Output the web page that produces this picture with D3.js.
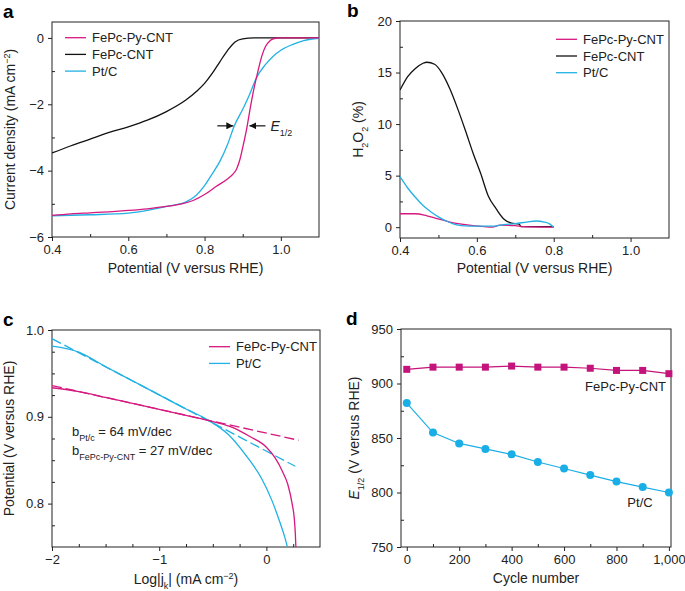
<!DOCTYPE html>
<html>
<head>
<meta charset="utf-8">
<script src="https://cdn.jsdelivr.net/npm/d3@7"></script>
<style>
  body { margin: 0; background: #fff; }
  svg { font-family: "Liberation Sans", Arial, Helvetica, sans-serif; }
  .tick text { font-size: 13px; fill: #222; }
  .tick line { stroke: #222; }
</style>
</head>
<body>
<svg id="chart" width="685" height="591"></svg>
<script>
// --- Data ---
// a: LSV curves, [potential V, current density mA cm-2]
const lsvPyCNT = [[0.40,-5.35],[0.45,-5.30],[0.50,-5.27],[0.55,-5.24],[0.60,-5.20],[0.65,-5.15],[0.70,-5.08],[0.74,-5.00],[0.77,-4.90],[0.80,-4.72],[0.83,-4.48],[0.86,-4.25],[0.875,-4.10],[0.884,-3.95],[0.893,-3.65],[0.902,-3.20],[0.911,-2.70],[0.920,-2.10],[0.930,-1.50],[0.940,-1.00],[0.950,-0.55],[0.960,-0.25],[0.972,-0.08],[0.985,-0.01],[1.00,0],[1.10,0]];
const lsvCNT = [[0.40,-3.47],[0.45,-3.25],[0.50,-3.05],[0.55,-2.85],[0.60,-2.68],[0.65,-2.48],[0.70,-2.22],[0.75,-1.88],[0.78,-1.60],[0.80,-1.37],[0.82,-1.07],[0.84,-0.72],[0.86,-0.38],[0.88,-0.12],[0.90,-0.03],[0.93,0],[1.10,0]];
const lsvPtC = [[0.40,-5.36],[0.50,-5.33],[0.60,-5.28],[0.65,-5.20],[0.70,-5.08],[0.75,-4.95],[0.77,-4.82],[0.80,-4.45],[0.82,-4.10],[0.84,-3.72],[0.86,-3.22],[0.878,-2.65],[0.90,-2.15],[0.92,-1.65],[0.935,-1.22],[0.96,-0.80],[0.98,-0.55],[1.00,-0.37],[1.03,-0.20],[1.06,-0.08],[1.10,-0.01]];
const e12Marks = [0.878, 0.915];   // E1/2 arrow heads (Pt/C, FePc-Py-CNT)
const e12Level = -2.65;

// b: H2O2 yield, [potential V, %]
const h2o2PyCNT = [[0.40,1.3],[0.44,1.3],[0.47,1.1],[0.50,0.8],[0.53,0.5],[0.56,0.3],[0.59,0.15],[0.62,0.05],[0.64,0.0],[0.66,0.2],[0.70,0.15],[0.72,0.05],[0.80,0.0]];
const h2o2CNT = [[0.40,13.3],[0.42,14.6],[0.44,15.4],[0.46,15.9],[0.47,16.0],[0.49,15.8],[0.51,14.9],[0.53,13.4],[0.55,11.5],[0.57,9.4],[0.59,7.2],[0.61,5.2],[0.63,3.0],[0.65,1.8],[0.67,0.8],[0.69,0.4],[0.71,0.3],[0.715,0.05],[0.80,0.05]];
const h2o2PtC = [[0.40,4.9],[0.42,3.8],[0.44,2.9],[0.46,2.1],[0.48,1.5],[0.50,1.0],[0.52,0.6],[0.54,0.3],[0.56,0.15],[0.60,0.1],[0.64,0.1],[0.67,0.25],[0.70,0.35],[0.73,0.5],[0.755,0.6],[0.775,0.5],[0.79,0.3],[0.80,0.0]];

// c: Tafel plots, [log|jk|, potential V]
const tafelPyCNT = [[-2,0.9335],[-1.75,0.929],[-1.5,0.9223],[-1.25,0.9155],[-1.0,0.9086],[-0.75,0.9017],[-0.5,0.8945],[-0.3,0.887],[-0.15,0.877],[0,0.865],[0.08,0.853],[0.15,0.837],[0.2,0.822],[0.24,0.800],[0.26,0.783],[0.27,0.765],[0.275,0.75]];
const tafelPtC = [[-2,0.9815],[-1.75,0.9745],[-1.5,0.9577],[-1.25,0.9415],[-1.0,0.9253],[-0.75,0.909],[-0.55,0.8966],[-0.35,0.879],[-0.2,0.857],[-0.05,0.830],[0.05,0.804],[0.13,0.777],[0.17,0.762],[0.196,0.75]];
const fitPyCNT = [[-2,0.936],[0.3,0.873]];
const fitPtC = [[-2,0.99],[0.27,0.843]];

// d: stability, E1/2 (mV) vs cycle number
const cycles = [0,100,200,300,400,500,600,700,800,900,1000];
const stabPyCNT = [913,915,915,915,916,915,915,914,912,912,909];
const stabPtC = [882,855,845,840,835,828,822,816,810,805,800];

const names = ["FePc-Py-CNT", "FePc-CNT", "Pt/C"];
const colors = { pink: "#d6187f", black: "#111111", cyan: "#22b1e4", pinkMark: "#c4137a", cyanMark: "#1aaee6" };

// --- Helpers ---
const svg = d3.select("#chart");

function panel(opt) {
    const g = svg.append("g").attr("transform", `translate(${opt.left},${opt.top})`);
    const w = opt.width, h = opt.height;
    const x = d3.scaleLinear().domain(opt.xDomain).range([0, w]);
    const y = d3.scaleLinear().domain(opt.yDomain).range([h, 0]);

    // minor ticks point inward, major ticks outward
    g.append("g").attr("transform", `translate(0,${h})`)
        .call(d3.axisBottom(x).tickValues(opt.xMinor).tickSize(-3).tickFormat(""))
        .call(a => a.select(".domain").remove());
    g.append("g")
        .call(d3.axisLeft(y).tickValues(opt.yMinor).tickSize(-3).tickFormat(""))
        .call(a => a.select(".domain").remove());
    g.append("g").attr("transform", `translate(0,${h})`)
        .call(d3.axisBottom(x).tickValues(opt.xMajor).tickSize(4).tickPadding(4).tickFormat(opt.xFormat))
        .call(a => a.select(".domain").remove());
    g.append("g")
        .call(d3.axisLeft(y).tickValues(opt.yMajor).tickSize(4).tickPadding(4).tickFormat(opt.yFormat))
        .call(a => a.select(".domain").remove());

    g.append("rect").attr("width", w).attr("height", h)
        .attr("fill", "none").attr("stroke", "#222").attr("stroke-width", 1);

    const clip = "clip" + opt.id;
    g.append("clipPath").attr("id", clip).append("rect").attr("width", w).attr("height", h);
    const plot = g.append("g").attr("clip-path", `url(#${clip})`);

    svg.append("text").attr("x", opt.labelX).attr("y", opt.top - 4)
        .attr("font-size", 19).attr("font-weight", "bold").text(opt.id);

    return { g, plot, x, y, w, h };
}

function drawLine(p, data, color, dash) {
    const line = d3.line().x(d => p.x(d[0])).y(d => p.y(d[1])).curve(d3.curveMonotoneX);
    p.plot.append("path").datum(data)
        .attr("fill", "none").attr("stroke", color).attr("stroke-width", 1.3)
        .attr("stroke-dasharray", dash || null)
        .attr("d", line);
}

function legend(p, x0, y0, items) {
    items.forEach((it, i) => {
        const yy = y0 + i * 16.7;
        p.g.append("line").attr("x1", x0).attr("x2", x0 + 21).attr("y1", yy).attr("y2", yy)
            .attr("stroke", it.color).attr("stroke-width", 1.3);
        p.g.append("text").attr("x", x0 + 27).attr("y", yy).attr("dy", "0.35em")
            .attr("font-size", 13).attr("fill", "#222").text(it.name);
    });
}

function xTitle(p, parts, dy) {
    const t = p.g.append("text").attr("x", p.w / 2).attr("y", p.h + dy)
        .attr("text-anchor", "middle").attr("font-size", 14).attr("fill", "#222");
    addParts(t, parts);
}

function yTitle(p, parts, dx) {
    const t = p.g.append("text")
        .attr("transform", `translate(${-dx},${p.h / 2}) rotate(-90)`)
        .attr("text-anchor", "middle").attr("font-size", 14).attr("fill", "#222");
    addParts(t, parts);
}

// parts: [text, kind] with kind in "", "sub", "sup", "it"
function addParts(t, parts) {
    parts.forEach(([s, kind]) => {
        const ts = t.append("tspan").text(s);
        if (kind === "sup") ts.attr("font-size", 9).attr("baseline-shift", "super");
        if (kind === "sub") ts.attr("font-size", 9).attr("baseline-shift", "sub");
        if (kind === "it") ts.attr("font-style", "italic");
    });
}

// --- Panel a ---
const pa = panel({
    id: "a", left: 52, top: 22, width: 267, height: 215, labelX: 3,
    xDomain: [0.4, 1.1], yDomain: [-6, 0.48],
    xMajor: [0.4, 0.6, 0.8, 1.0], xMinor: [0.5, 0.7, 0.9],
    yMajor: [0, -2, -4, -6], yMinor: [-1, -3, -5],
    xFormat: d3.format(".1f"), yFormat: d3.format("d")
});
drawLine(pa, lsvCNT, colors.black);
drawLine(pa, lsvPtC, colors.cyan);
drawLine(pa, lsvPyCNT, colors.pink);
legend(pa, 13, 15.7, [
    { name: names[0], color: colors.pink },
    { name: names[1], color: colors.black },
    { name: names[2], color: colors.cyan }
]);
// E1/2 arrows
const ay = pa.y(e12Level);
const defs = svg.append("defs");
defs.append("marker").attr("id", "arrowHead").attr("viewBox", "0 0 10 10")
    .attr("refX", 10).attr("refY", 5).attr("markerWidth", 7).attr("markerHeight", 7)
    .attr("orient", "auto-start-reverse").attr("markerUnits", "userSpaceOnUse")
    .append("path").attr("d", "M0,0 L10,5 L0,10 z").attr("fill", "#111");
pa.g.append("line").attr("x1", pa.x(e12Marks[0]) - 17).attr("x2", pa.x(e12Marks[0]) - 1)
    .attr("y1", ay).attr("y2", ay).attr("stroke", "#111").attr("stroke-width", 1.2)
    .attr("marker-end", "url(#arrowHead)");
pa.g.append("line").attr("x1", pa.x(e12Marks[1]) + 17).attr("x2", pa.x(e12Marks[1]) + 1)
    .attr("y1", ay).attr("y2", ay).attr("stroke", "#111").attr("stroke-width", 1.2)
    .attr("marker-end", "url(#arrowHead)");
const et = pa.g.append("text").attr("x", pa.x(e12Marks[1]) + 22).attr("y", ay + 5)
    .attr("font-size", 14).attr("fill", "#222");
addParts(et, [["E", "it"], ["1/2", "sub"]]);
xTitle(pa, [["Potential (V versus RHE)", ""]], 36);
yTitle(pa, [["Current density (mA cm", ""], ["−2", "sup"], [")", ""]], 37);

// --- Panel b ---
const pb = panel({
    id: "b", left: 400, top: 21, width: 269, height: 217, labelX: 347,
    xDomain: [0.4, 1.1], yDomain: [-1.05, 20],
    xMajor: [0.4, 0.6, 0.8, 1.0], xMinor: [0.5, 0.7, 0.9],
    yMajor: [0, 5, 10, 15, 20], yMinor: [2.5, 7.5, 12.5, 17.5],
    xFormat: d3.format(".1f"), yFormat: d3.format("d")
});
drawLine(pb, h2o2CNT, colors.black);
drawLine(pb, h2o2PyCNT, colors.pink);
drawLine(pb, h2o2PtC, colors.cyan);
legend(pb, 156, 18.3, [
    { name: names[0], color: colors.pink },
    { name: names[1], color: colors.black },
    { name: names[2], color: colors.cyan }
]);
xTitle(pb, [["Potential (V versus RHE)", ""]], 35);
yTitle(pb, [["H", ""], ["2", "sub"], ["O", ""], ["2", "sub"], [" (%)", ""]], 37);

// --- Panel c ---
const pc = panel({
    id: "c", left: 52, top: 330, width: 268, height: 217, labelX: 3,
    xDomain: [-2, 0.5], yDomain: [0.75, 1.0],
    xMajor: [-2, -1, 0], xMinor: [-1.75, -1.5, -1.25, -0.75, -0.5, -0.25, 0.25],
    yMajor: [0.8, 0.9, 1.0], yMinor: [0.775, 0.825, 0.85, 0.875, 0.925, 0.95, 0.975],
    xFormat: d3.format("d"), yFormat: d3.format(".1f")
});
drawLine(pc, fitPtC, colors.cyan, "10,4");
drawLine(pc, fitPyCNT, colors.pink, "10,4");
drawLine(pc, tafelPtC, colors.cyan);
drawLine(pc, tafelPyCNT, colors.pink);
legend(pc, 157, 16.7, [
    { name: names[0], color: colors.pink },
    { name: names[2], color: colors.cyan }
]);
const b1 = pc.g.append("text").attr("x", 20).attr("y", 106).attr("font-size", 13).attr("fill", "#222");
addParts(b1, [["b", ""], ["Pt/c", "sub"], [" = 64 mV/dec", ""]]);
const b2 = pc.g.append("text").attr("x", 20).attr("y", 125).attr("font-size", 13).attr("fill", "#222");
addParts(b2, [["b", ""], ["FePc-Py-CNT", "sub"], [" = 27 mV/dec", ""]]);
xTitle(pc, [["Log|j", ""], ["k", "sub"], ["| (mA cm", ""], ["−2", "sup"], [")", ""]], 37);
yTitle(pc, [["Potential (V versus RHE)", ""]], 38);

// --- Panel d ---
const pd = panel({
    id: "d", left: 401, top: 329, width: 270, height: 218, labelX: 346,
    xDomain: [-22, 1008], yDomain: [750, 950],
    xMajor: [0, 200, 400, 600, 800, 1000], xMinor: [100, 300, 500, 700, 900],
    yMajor: [750, 800, 850, 900, 950], yMinor: [775, 825, 875, 925],
    xFormat: d3.format(","), yFormat: d3.format("d")
});
const lineD = d3.line().x((d, i) => pd.x(cycles[i])).y(d => pd.y(d));
pd.g.append("path").datum(stabPyCNT).attr("fill", "none").attr("stroke", colors.pinkMark)
    .attr("stroke-width", 1.2).attr("d", lineD);
pd.g.append("path").datum(stabPtC).attr("fill", "none").attr("stroke", colors.cyanMark)
    .attr("stroke-width", 1.2).attr("d", lineD);
pd.g.selectAll(".sq").data(stabPyCNT).enter().append("rect")
    .attr("x", (d, i) => pd.x(cycles[i]) - 3.5).attr("y", d => pd.y(d) - 3.5)
    .attr("width", 7).attr("height", 7).attr("fill", colors.pinkMark);
pd.g.selectAll(".ci").data(stabPtC).enter().append("circle")
    .attr("cx", (d, i) => pd.x(cycles[i])).attr("cy", d => pd.y(d))
    .attr("r", 4).attr("fill", colors.cyanMark);
pd.g.append("text").attr("x", pd.w - 5).attr("y", 62).attr("text-anchor", "end")
    .attr("font-size", 13).attr("fill", "#222").text(names[0]);
pd.g.append("text").attr("x", 239).attr("y", 178).attr("text-anchor", "middle")
    .attr("font-size", 13).attr("fill", "#222").text(names[2]);
xTitle(pd, [["Cycle number", ""]], 36);
yTitle(pd, [["E", "it"], ["1/2", "sub"], [" (V versus RHE)", ""]], 42);
</script>
</body>
</html>
